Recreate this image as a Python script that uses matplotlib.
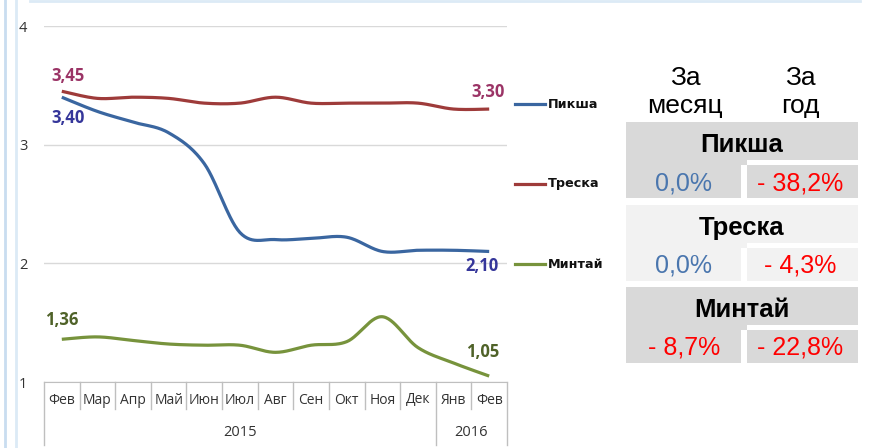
import numpy as np
import matplotlib.pyplot as plt
from matplotlib.patches import Rectangle
from matplotlib.transforms import blended_transform_factory

months = ["Фев", "Мар", "Апр", "Май", "Июн", "Июл", "Авг",
          "Сен", "Окт", "Ноя", "Дек", "Янв", "Фев"]
years = ["2015", "2016"]
year_counts = [11, 2]

pikша = [3.40, 3.28, 3.19, 3.10, 2.84, 2.26, 2.20, 2.21, 2.22, 2.10, 2.11, 2.11, 2.10]
treska = [3.45, 3.39, 3.40, 3.39, 3.35, 3.35, 3.40, 3.35, 3.35, 3.35, 3.35, 3.30, 3.30]
mintai = [1.36, 1.38, 1.35, 1.32, 1.31, 1.31, 1.25, 1.31, 1.34, 1.55, 1.29, 1.16, 1.05]

series_names = ["Пикша", "Треска", "Минтай"]
month_change = ["0,0%", "0,0%", "- 8,7%"]
year_change = ["- 38,2%", "- 4,3%", "- 22,8%"]

W, H = 869, 448
line_colors = ["#3A66A0", "#9E3B3A", "#77933C"]
label_colors = ["#35369A", "#9B3466", "#4F6228"]
chart_font = ["Open Sans", "DejaVu Sans"]
table_font = ["Liberation Sans", "DejaVu Sans"]


def smooth(y, n=30):
    # Excel-like smoothed line: cubic Bezier with Catmull-Rom tangents
    x = np.arange(len(y), dtype=float)
    y = np.asarray(y, dtype=float)
    px = np.concatenate([[x[0]], x, [x[-1]]])
    py = np.concatenate([[y[0]], y, [y[-1]]])
    t = np.linspace(0, 1, n)[:, None]
    xs, ys = [], []
    for i in range(len(y) - 1):
        p0 = np.array([x[i], y[i]])
        p3 = np.array([x[i + 1], y[i + 1]])
        p1 = p0 + (np.array([px[i + 2], py[i + 2]]) - np.array([px[i], py[i]])) / 6
        p2 = p3 - (np.array([px[i + 3], py[i + 3]]) - np.array([px[i + 1], py[i + 1]])) / 6
        b = ((1 - t) ** 3) * p0 + 3 * ((1 - t) ** 2) * t * p1 + 3 * (1 - t) * t ** 2 * p2 + t ** 3 * p3
        xs.append(b[:, 0])
        ys.append(b[:, 1])
    return np.concatenate(xs), np.concatenate(ys)


fig = plt.figure(figsize=(W / 100, H / 100), dpi=100)
ax = fig.add_axes([44 / W, 1 - 382 / H, 463 / W, 356 / H])

for vals, c in zip([pikша, treska, mintai], line_colors):
    sx, sy = smooth(vals)
    ax.plot(sx, sy, color=c, lw=2.3, solid_capstyle="butt")

ax.set_xlim(-0.5, len(months) - 0.5)
ax.set_ylim(1, 4)
ax.set_yticks([1, 2, 3, 4])
ax.grid(axis="y", color="#D9D9D9", lw=1)
ax.set_axisbelow(True)
ax.set_xticks([])
ax.tick_params(axis="y", length=0, pad=12, labelsize=10.5, labelcolor="#333333")
for lab in ax.get_yticklabels():
    lab.set_family(chart_font)
for s in ["top", "right", "left"]:
    ax.spines[s].set_visible(False)
ax.spines["bottom"].set_color("#BFBFBF")

# category axis with two levels
tr = blended_transform_factory(ax.transData, ax.transAxes)
ext_short = -27 / 356
ext_long = -63 / 356
bounds = [0]
for n in year_counts:
    bounds.append(bounds[-1] + n)
for i in range(len(months) + 1):
    ylow = ext_long if i in bounds else ext_short
    ax.plot([i - 0.5, i - 0.5], [0, ylow], transform=tr, color="#BFBFBF",
            lw=1, clip_on=False)
for i, m in enumerate(months):
    ax.text(i, -18 / 356, m, transform=tr, ha="center", va="center",
            fontsize=10, color="#333333", family=chart_font)
for k, yr in enumerate(years):
    mid = (bounds[k] + bounds[k + 1]) / 2 - 0.5
    ax.text(mid, -50 / 356, yr, transform=tr, ha="center", va="center",
            fontsize=10.5, color="#333333", family=chart_font)

# data labels
last = len(months) - 1
labels = [
    (0, treska[0], (6, 15), label_colors[1]),
    (0, pikша[0], (6, -21), label_colors[0]),
    (last, treska[-1], (-1, 17), label_colors[1]),
    (last, pikша[-1], (-7, -15), label_colors[0]),
    (0, mintai[0], (0, 19), label_colors[2]),
    (last, mintai[-1], (-7, 24), label_colors[2]),
]
for xi, v, off, c in labels:
    ax.annotate(f"{v:.2f}".replace(".", ","), (xi, v), xytext=off,
                textcoords="offset pixels", ha="center", va="center",
                fontsize=12, fontweight="bold", color=c, family=chart_font)

# overlay in pixel coordinates for frame, legend and table
ov = fig.add_axes([0, 0, 1, 1])
ov.set_xlim(0, W)
ov.set_ylim(H, 0)
ov.axis("off")

ov.plot([4.5, 4.5], [0, H], color="#C9DDF0", lw=2)
ov.plot([15.5, 15.5], [0, H], color="#DCEAF6", lw=2)
ov.plot([30, 860], [1, 1], color="#DCEAF6", lw=2)

for k, (name, c) in enumerate(zip(series_names, line_colors)):
    yy = 104 + 80 * k
    ov.plot([515, 545], [yy, yy], color=c, lw=2.3)
    ov.text(548, yy, name, ha="left", va="center", fontsize=9.2,
            fontweight="bold", color="#111111", family=["DejaVu Sans"])

# table
ov.text(685, 85, "За", ha="center", va="baseline", fontsize=19, family=table_font)
ov.text(685, 113, "месяц", ha="center", va="baseline", fontsize=19, family=table_font)
ov.text(800, 85, "За", ha="center", va="baseline", fontsize=19, family=table_font)
ov.text(800, 113, "год", ha="center", va="baseline", fontsize=19, family=table_font)

tops = [122, 205, 287]
fills = ["#D9D9D9", "#F2F2F2", "#D9D9D9"]
for top, fc, name, mv, yv in zip(tops, fills, series_names, month_change, year_change):
    ov.add_patch(Rectangle((626, top), 232, 38, facecolor=fc, edgecolor="none"))
    ov.add_patch(Rectangle((626, top + 38), 115, 38, facecolor=fc, edgecolor="none"))
    ov.add_patch(Rectangle((747, top + 43), 111, 33, facecolor=fc, edgecolor="none"))
    ov.add_patch(Rectangle((741, top + 38), 6, 5, facecolor=fc, edgecolor="none"))
    ov.text(742, top + 30, name, ha="center", va="baseline", fontsize=18.5,
            fontweight="bold", color="black", family=table_font)
    for xc, v in [(684, mv), (800, yv)]:
        col = "#FF0000" if v.startswith("-") else "#4A76AE"
        ov.text(xc, top + 68, v, ha="center", va="baseline", fontsize=18,
                color=col, family=table_font)

fig.savefig("out.png", dpi=100)
